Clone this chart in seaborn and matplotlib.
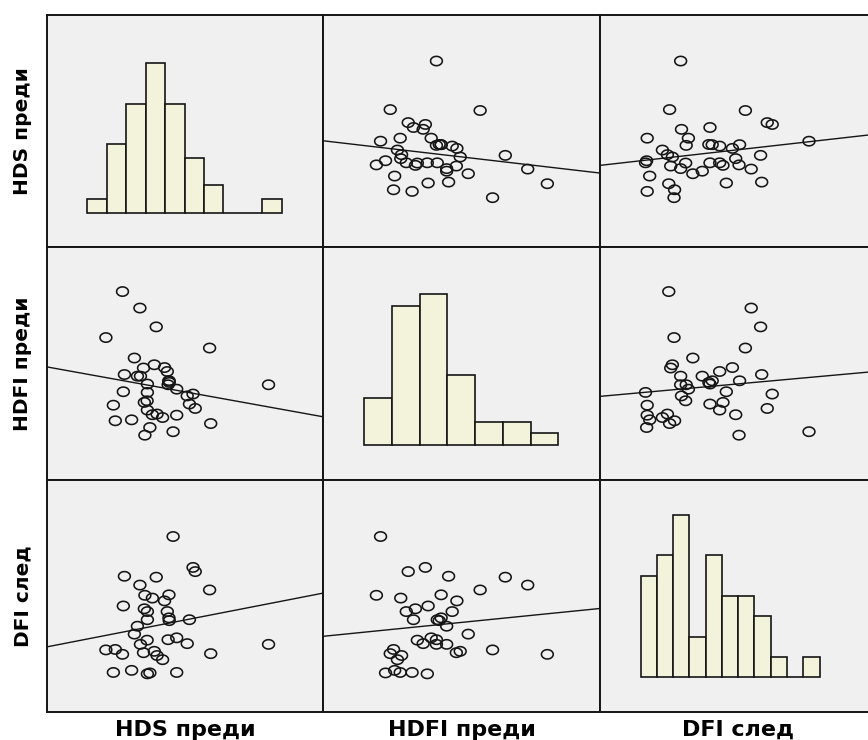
import numpy as np
import pandas as pd
import matplotlib
matplotlib.use("Agg")
import matplotlib.pyplot as plt
import seaborn as sns
from matplotlib.path import Path

# ---------------- data (arbitrary 0-100 units) ----------------
variables = ["HDS преди", "HDFI преди", "DFI след"]

hds = [36.4, 37.3, 47.0, 24.1, 30.7, 41.9, 39.9, 27.4, 59.3, 35.0,
       38.9, 21.4, 24.8, 80.2, 33.9, 50.8, 36.3, 43.9, 47.0, 31.7,
       32.8, 44.3, 51.6, 36.4, 44.2, 43.6, 36.4, 35.3, 27.7, 42.6,
       38.2, 35.5, 44.2, 58.9, 33.7, 39.6, 28.1, 53.7, 52.9, 45.7]

hdfi = [37.6, 22.5, 27.8, 32.1, 25.8, 26.8, 28.3, 81.0, 24.2, 48.1,
        49.5, 61.2, 25.4, 40.9, 44.6, 36.1, 34.0, 40.9, 39.0, 52.4,
        44.6, 41.9, 32.6, 41.2, 42.6, 46.6, 30.0, 33.3, 37.9, 48.3,
        28.0, 19.2, 42.6, 56.7, 73.9, 65.8, 45.3, 30.7, 36.9, 20.7]

dfi = [16.5, 16.9, 17.1, 17.1, 18.0, 22.6, 24.4, 24.9, 25.2, 25.6,
       26.2, 26.8, 27.0, 29.2, 29.2, 29.5, 31.0, 31.2, 32.0, 33.6,
       37.0, 39.4, 39.8, 39.8, 40.6, 43.3, 43.3, 44.5, 45.7, 47.9,
       49.1, 50.3, 50.5, 52.6, 54.7, 58.1, 58.5, 60.5, 62.3, 75.6]

# histogram binning per variable
bin_start = [14.71, 14.71, 14.71]
bin_stop = [84.96, 84.96, 79.40]
bin_count = [10, 7, 11]

df = pd.DataFrame({variables[0]: hds, variables[1]: hdfi, variables[2]: dfi})

# ---------------- style ----------------
sns.set_style("white")
plt.rcParams["font.family"] = ["DejaVu Sans"]

panel_bg = "#F0F0F0"
bar_fc = "#F3F3DC"
ink = "#151515"
hist_top_frac = [0.795, 0.80, 0.85]
hist_base_frac = 0.15

theta = np.linspace(0, 2 * np.pi, 64)
ellipse = Path(np.column_stack([np.cos(theta), 0.79 * np.sin(theta)]), closed=True)

W, H = 868, 740
fig = plt.figure(figsize=(W / 100, H / 100), dpi=100)
fig.patch.set_facecolor("white")

x0, pw = 46.7, 276.6
y0, ph = 15.0, 232.4

n = len(variables)
for i in range(n):          # rows (y variable)
    for j in range(n):      # columns (x variable)
        left = (x0 + j * pw) / W
        bottom = 1 - (y0 + (i + 1) * ph) / H
        ax = fig.add_axes([left, bottom, pw / W, ph / H])
        ax.set_facecolor(panel_bg)
        xv = variables[j]
        yv = variables[i]
        ax.set_xlim(0, 100)
        if i == j:
            edges = np.linspace(bin_start[j], bin_stop[j], bin_count[j] + 1)
            sns.histplot(x=df[xv], bins=edges, ax=ax, color=bar_fc,
                         edgecolor=ink, linewidth=1.2, alpha=1.0)
            counts, _ = np.histogram(df[xv], bins=edges)
            unit = (hist_top_frac[j] - hist_base_frac) / counts.max()
            ax.set_ylim(-hist_base_frac / unit, (1 - hist_base_frac) / unit)
        else:
            ax.set_ylim(0, 100)
            sns.regplot(x=df[xv], y=df[yv], ax=ax, scatter=False, ci=None,
                        truncate=False, color=ink,
                        line_kws={"linewidth": 1.0})
            sns.scatterplot(x=df[xv], y=df[yv], ax=ax, marker=ellipse, s=72,
                            facecolors="none", edgecolor=ink, linewidth=1.15,
                            zorder=3)
            ax.set_xlim(0, 100)
            ax.set_ylim(0, 100)
        ax.set_xticks([])
        ax.set_yticks([])
        ax.set_xlabel("")
        ax.set_ylabel("")
        for s in ax.spines.values():
            s.set_visible(True)
            s.set_color(ink)
            s.set_linewidth(1.4)

# axis labels
for k, name in enumerate(variables):
    cx = (x0 + (k + 0.5) * pw) / W
    fig.text(cx, 1 - 730 / H, name, ha="center", va="center",
             fontsize=16, fontweight="bold", color="black")
    cy = 1 - (y0 + (k + 0.5) * ph) / H
    fig.text(22.8 / W, cy, name, ha="center", va="center", rotation=90,
             fontsize=14.5, fontweight="bold", color="black")

fig.savefig("out.png", dpi=100, facecolor="white")
